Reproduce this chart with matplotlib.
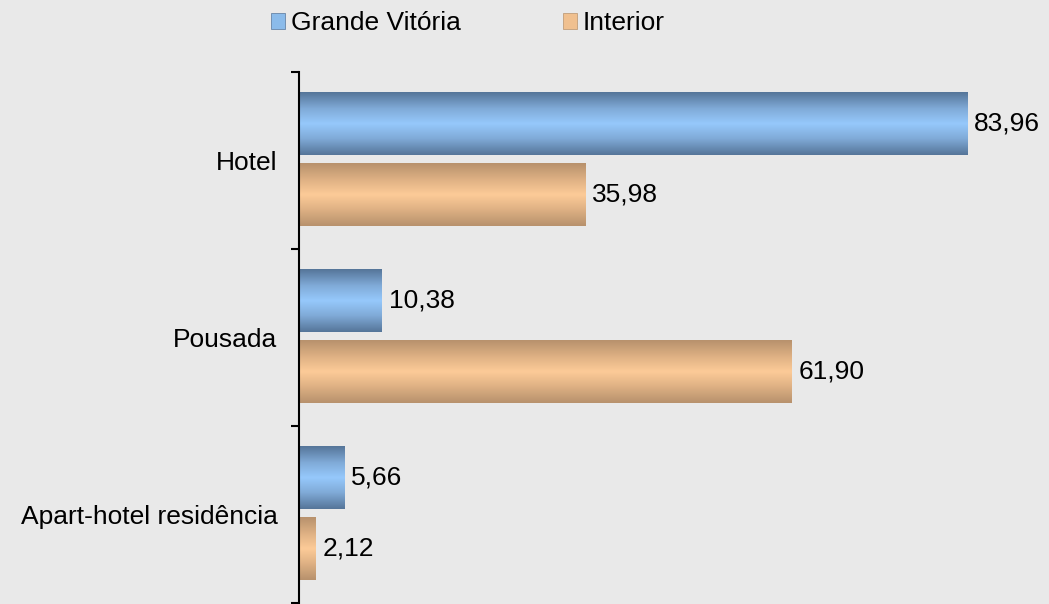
import matplotlib.pyplot as plt
import numpy as np
from matplotlib.patches import Patch
from matplotlib.colors import LinearSegmentedColormap

plt.rcParams['font.family'] = ['Liberation Sans', 'DejaVu Sans']

categories = ['Hotel', 'Pousada', 'Apart-hotel residência']
grande_vitoria = [83.96, 10.38, 5.66]
interior = [35.98, 61.90, 2.12]
series_names = ['Grande Vitória', 'Interior']

blue_cmap = LinearSegmentedColormap.from_list('b', ['#56769A', '#7FA9D6', '#96C9FC', '#7FA9D6', '#56769A'])
orange_cmap = LinearSegmentedColormap.from_list('o', ['#B8926D', '#DDB083', '#FDCB98', '#DDB083', '#B8926D'])

FS = 19

fig = plt.figure(figsize=(10.49, 6.04), dpi=100)
fig.patch.set_facecolor('#E9E9E9')
ax = fig.add_axes([299 / 1049, 0.0, 1 - 299 / 1049, (604 - 72) / 604])
ax.set_facecolor('none')

n = len(categories)
xmax = (1049 - 299) / ((967 - 299) / 83.96)

h = 0.355
grad = np.linspace(0, 1, 64).reshape(-1, 1)

def gbar(yc, val, cmap):
    # gradient filled bar
    ax.imshow(grad, cmap=cmap, aspect='auto', interpolation='bilinear',
              extent=(0, val, yc + h / 2, yc - h / 2), zorder=2)
    ax.text(val + 0.9, yc, f'{val:.2f}'.replace('.', ','), va='center', ha='left',
            fontsize=FS, color='black', zorder=3)

for i in range(n):
    gbar(i - 0.21, grande_vitoria[i], blue_cmap)
    gbar(i + 0.19, interior[i], orange_cmap)

ax.set_xlim(0, xmax)
ax.set_ylim(n - 0.5 + 0.005, -0.5)

for s in ['top', 'right', 'bottom']:
    ax.spines[s].set_visible(False)
ax.spines['left'].set_linewidth(1.5)
ax.set_xticks([])
ax.set_yticks(np.arange(n + 1) - 0.5)
ax.set_yticklabels([])
ax.tick_params(axis='y', which='major', length=6, width=1.5)
ax.set_yticks(np.arange(n), minor=True)
ax.set_yticklabels(categories, minor=True, fontsize=FS)
ax.tick_params(axis='y', which='minor', length=0, pad=15.5)

handles = [Patch(facecolor='#8BBBEA', edgecolor='#56769A', linewidth=0.5),
           Patch(facecolor='#F0C08F', edgecolor='#B8926D', linewidth=0.5)]
fig.legend(handles, series_names, loc='upper left', bbox_to_anchor=(247 / 1049, 1.021),
           ncol=2, frameon=False, fontsize=FS, handlelength=0.55, handleheight=0.55,
           handletextpad=0.22, columnspacing=3.85)

fig.savefig('out.png', dpi=100, facecolor=fig.get_facecolor())
